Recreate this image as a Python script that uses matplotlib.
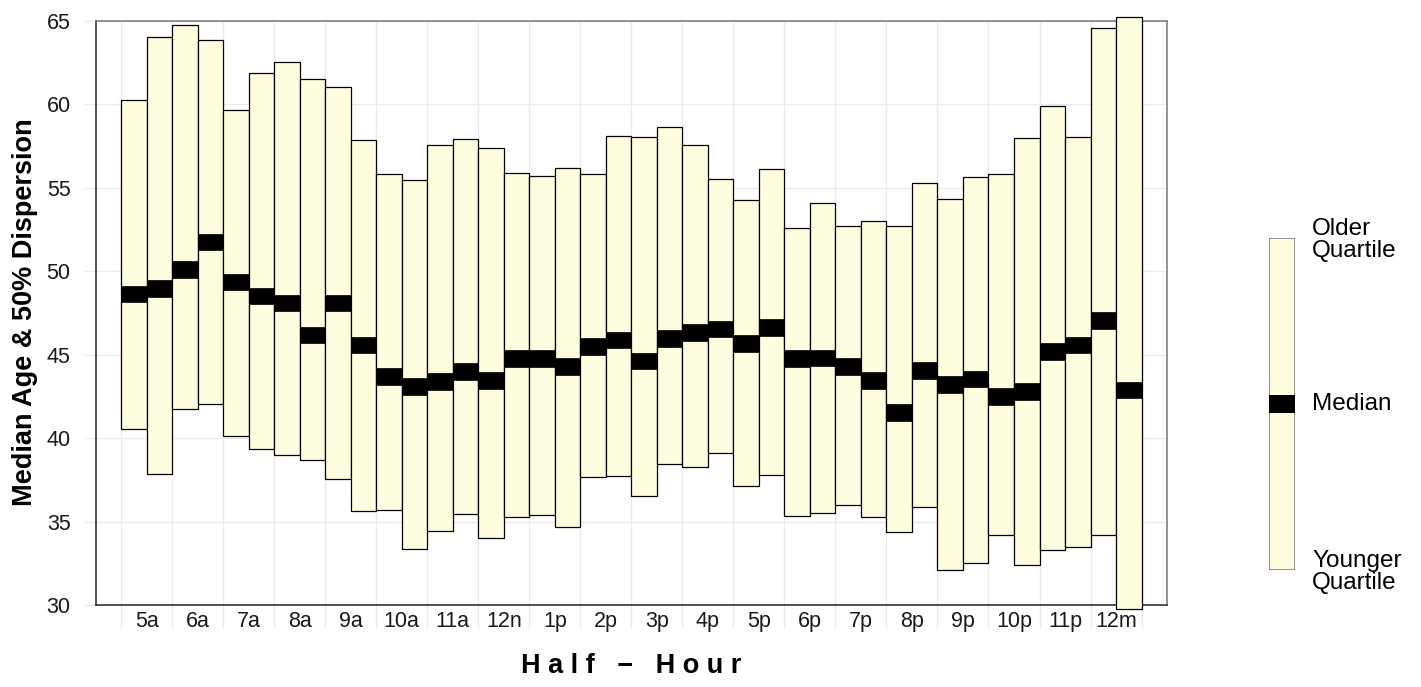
import numpy as np
import matplotlib
matplotlib.use("Agg")
import matplotlib.pyplot as plt

plt.rcParams['font.family'] = ['Liberation Sans', 'DejaVu Sans']

# half-hour slots, 4:30a .. 12:00m
median = [48.63, 48.98, 50.12, 51.75, 49.36, 48.51, 48.10, 46.19, 48.10, 45.59,
          43.70, 43.10, 43.38, 43.98, 43.45, 44.76, 44.76, 44.28, 45.49, 45.89,
          44.63, 45.97, 46.32, 46.54, 45.69, 46.62, 44.76, 44.81, 44.28, 43.45,
          41.54, 44.06, 43.20, 43.55, 42.49, 42.82, 45.21, 45.59, 47.07, 42.89]
upper = [60.25, 64.05, 64.73, 63.87, 59.67, 61.86, 62.52, 61.53, 61.03, 57.84,
         55.85, 55.47, 57.56, 57.89, 57.38, 55.90, 55.70, 56.18, 55.80, 58.09,
         58.04, 58.62, 57.56, 55.50, 54.24, 56.10, 52.58, 54.11, 52.68, 53.01,
         52.68, 55.30, 54.32, 55.65, 55.80, 57.96, 59.90, 58.04, 64.59, 65.22]
lower = [40.56, 37.87, 41.77, 42.07, 40.11, 39.33, 38.97, 38.70, 37.54, 35.65,
         35.70, 33.36, 34.42, 35.48, 34.02, 35.28, 35.38, 34.70, 37.68, 37.73,
         36.55, 38.46, 38.28, 39.09, 37.15, 37.81, 35.35, 35.55, 35.98, 35.28,
         34.37, 35.86, 32.11, 32.56, 34.19, 32.44, 33.33, 33.48, 34.19, 29.80]
hour_labels = ['5a', '6a', '7a', '8a', '9a', '10a', '11a', '12n', '1p', '2p',
               '3p', '4p', '5p', '6p', '7p', '8p', '9p', '10p', '11p', '12m']

fill = '#FFFDE0'
grid = '#EBEBEB'
band = 1.0

median = np.array(median)
upper = np.array(upper)
lower = np.array(lower)
x = np.arange(len(median))

fig = plt.figure(figsize=(14.21, 6.87), dpi=100)
ax = fig.add_axes([0.0673, 0.1189, 0.754, 0.851])

ax.bar(x, upper - lower, bottom=lower, width=1.0, color=fill,
       edgecolor='black', linewidth=0.9, zorder=3, clip_on=False)
ax.bar(x, band, bottom=median - band / 2, width=1.0, color='black',
       edgecolor='black', linewidth=0.5, zorder=4, clip_on=False)

ax.set_xlim(-1.5, 40.5)
ax.set_ylim(30, 65)

ax.set_yticks(np.arange(30, 66, 5))
ax.set_xticks(np.arange(len(hour_labels)) * 2 + 0.5)
ax.set_xticklabels(hour_labels)
ax.set_xticks(np.arange(-0.5, 40, 2), minor=True)

ax.grid(False)
ax.yaxis.grid(True, color=grid, linewidth=1, zorder=0)
ax.xaxis.grid(True, which='minor', color=grid, linewidth=1, zorder=0)

ax.tick_params(axis='y', length=9, width=1, color=grid, pad=9,
               labelsize=15.5, labelcolor='#1a1a1a')
ax.tick_params(axis='x', which='major', length=0, pad=4,
               labelsize=15.5, labelcolor='#1a1a1a')
ax.tick_params(axis='x', which='minor', length=16.5, width=1, color=grid)

for side in ['left', 'bottom']:
    ax.spines[side].set_color('#222222')
    ax.spines[side].set_linewidth(1.1)
for side in ['top', 'right']:
    ax.spines[side].set_color('#777777')
    ax.spines[side].set_linewidth(1.1)

fig.text(0.0176, 0.545, 'Median Age & 50% Dispersion', rotation=90,
         ha='center', va='center', fontsize=19.5, fontweight='bold')
fig.text(0.444, 0.0204, 'H a l f   \u2212   H o u r', ha='center',
         va='baseline', fontsize=19.5, fontweight='bold')

# legend key
lax = fig.add_axes([0.8930, 0.1703, 0.0183, 0.4833])
lax.bar([0], [1.0], bottom=0, width=1.0, color=fill, edgecolor='#777777',
        linewidth=1.1)
lax.bar([0], [0.057], bottom=0.5 - 0.0285, width=1.0, color='black')
lax.set_xlim(-0.5, 0.5)
lax.set_ylim(0, 1)
lax.axis('off')

fig.text(0.9233, 0.6507, 'Older\nQuartile', ha='left', va='center',
         fontsize=17.5, linespacing=1.05)
fig.text(0.9233, 0.412, 'Median', ha='left', va='center', fontsize=17.5)
fig.text(0.9233, 0.1674, 'Younger\nQuartile', ha='left', va='center',
         fontsize=17.5, linespacing=1.05)

fig.savefig('out.png', dpi=100)
